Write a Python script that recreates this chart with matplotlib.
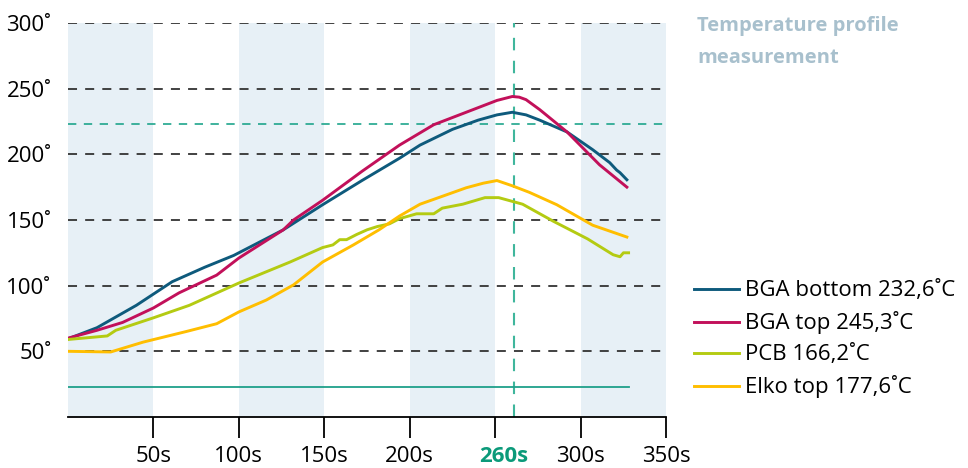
import matplotlib.pyplot as plt

plt.rcParams['font.family'] = ['Open Sans', 'DejaVu Sans']

# time (s) / temperature (deg C)
bga_bottom_t = [0, 17, 40, 61, 80, 97, 126, 149, 172, 194, 206, 225, 240, 251, 260, 268, 276, 292, 307, 317, 321, 323, 327]
bga_bottom_T = [59.5, 68, 85, 103, 114, 123, 142.5, 161.6, 180, 197, 207, 219, 226, 230, 232, 230, 226, 217, 203.5, 193.6, 188, 186, 180.6]

bga_top_t = [0, 17, 32, 50, 65, 87, 100, 126, 132, 149, 172, 194, 214, 233, 251, 260, 264, 268, 276, 292, 311, 327]
bga_top_T = [60, 66, 72, 83, 94.5, 108, 121, 142.5, 150, 165, 187, 207, 222.5, 232, 241, 244, 243.5, 241.6, 234, 217, 192, 175]

pcb_t = [0, 23, 28, 50, 71, 100, 130, 149, 155, 159, 163, 169, 175, 181, 188, 194, 204, 214, 219, 231, 244, 252, 266, 284, 304, 319, 323, 325, 328]
pcb_T = [59, 61.7, 66, 75.5, 85, 102, 118, 129, 131, 135, 135, 139, 142.5, 145, 147, 151, 154.7, 154.7, 159, 162, 167, 167, 162, 149, 135.6, 123.5, 122, 125, 125]

elko_t = [0, 25, 44, 69, 87, 100, 116, 132, 149, 167, 182, 194, 206, 219, 233, 243, 251, 260, 270, 286, 307, 327]
elko_T = [50, 49.5, 57, 65, 71, 80, 89, 100.6, 118, 131, 142.5, 153, 162, 168, 174.5, 178, 180, 176, 171, 161.6, 146, 137]

series = [
    (bga_bottom_t, bga_bottom_T, '#0e5a7c', 'BGA bottom 232,6˚C'),
    (bga_top_t, bga_top_T, '#c2105a', 'BGA top 245,3˚C'),
    (pcb_t, pcb_T, '#b4cb12', 'PCB 166,2˚C'),
    (elko_t, elko_T, '#ffbe00', 'Elko top 177,6˚C'),
]

bands = [(0, 50), (100, 150), (200, 250), (300, 350)]
peak_time = 261
peak_level = 223
base_level = 23
base_end = 328

xticks = [50, 100, 150, 200, 250, 300, 350]
xlabels = ['50s', '100s', '150s', '200s', '', '300s', '350s']
yticks = [50, 100, 150, 200, 250, 300]
ylabels = ['50˚', '100˚', '150˚', '200˚', '250˚', '300˚']

fig = plt.figure(figsize=(9.68, 4.68), dpi=100)
ax = fig.add_axes([0.0702, 0.109, 0.618, 0.842])

for a, b in bands:
    ax.axvspan(a, b, color='#e7f0f6', lw=0, zorder=0)

for y in yticks:
    ax.axhline(y, color='#333333', lw=1.3, dashes=(5, 4.5), zorder=1)

ax.axhline(peak_level, color='#1fa58c', lw=1.2, dashes=(5, 4.5), zorder=1)
ax.axvline(peak_time, color='#3fb69c', lw=1.5, dashes=(6, 5), zorder=1)
ax.plot([0, base_end], [base_level, base_level], color='#1fa08a', lw=1.3, zorder=2)

lines = []
for t, T, c, lab in series:
    ln, = ax.plot(t, T, color=c, lw=2.1, label=lab, zorder=3)
    lines.append(ln)

ax.set_xlim(0, 350)
ax.set_ylim(0, 300)
for s in ['top', 'right', 'left']:
    ax.spines[s].set_visible(False)
ax.spines['bottom'].set_linewidth(1.3)

ax.set_xticks(xticks)
ax.set_xticklabels(xlabels, fontsize=16)
ax.tick_params(axis='x', length=15, width=1.3, pad=6)
# the peak label sits between the 250 tick and the peak line
ax.set_xticks([255], minor=True)
ax.set_xticklabels(['260s'], minor=True, fontsize=16, fontweight='bold', color='#0b9a7a')
ax.tick_params(axis='x', which='minor', length=0, pad=21)
ax.set_yticks(yticks)
ax.set_yticklabels(ylabels, fontsize=16)
ax.tick_params(axis='y', length=0, pad=12)

fig.text(0.72, 0.965, 'Temperature profile\nmeasurement', ha='left', va='top',
         fontsize=14.5, fontweight='bold', color='#a8c0cd', linespacing=1.8)

fig.legend(handles=lines, loc='upper left', bbox_to_anchor=(0.708, 0.42), frameon=False,
           fontsize=16, handlelength=2.0, handletextpad=0.3, labelspacing=0.45, borderaxespad=0)

fig.savefig('out.png', dpi=100)
